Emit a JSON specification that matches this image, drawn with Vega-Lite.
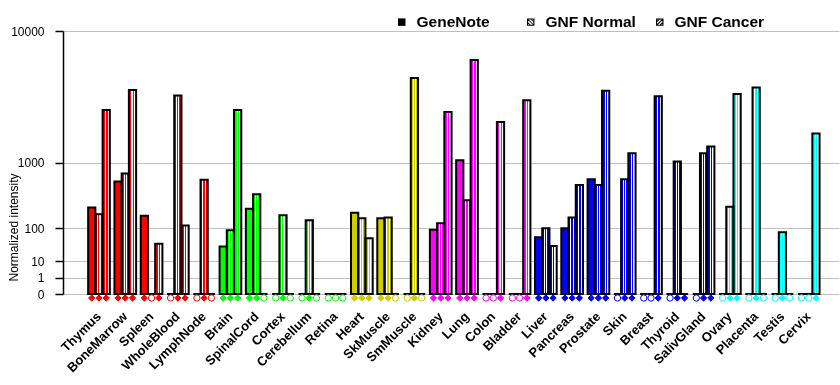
{
  "$schema": "https://vega.github.io/schema/vega-lite/v6.json",
  "width": 776,
  "height": 263,
  "autosize": {"type": "none"},
  "padding": {"left": 63, "top": 31, "right": 1, "bottom": 91},
  "background": "white",
  "config": {
    "view": {"stroke": null},
    "font": "Liberation Sans"
  },
  "resolve": {"scale": {"shape": "independent"}, "legend": {"shape": "independent"}},
  "data": {
    "values": [
      {"tissue": "Thymus", "system": "immune", "series": "GeneNote", "value": 248, "detected": 1},
      {"tissue": "Thymus", "system": "immune", "series": "GNF Normal", "value": 190, "detected": 1},
      {"tissue": "Thymus", "system": "immune", "series": "GNF Cancer", "value": 3046, "detected": 1},
      {"tissue": "BoneMarrow", "system": "immune", "series": "GeneNote", "value": 594, "detected": 1},
      {"tissue": "BoneMarrow", "system": "immune", "series": "GNF Normal", "value": 746, "detected": 1},
      {"tissue": "BoneMarrow", "system": "immune", "series": "GNF Cancer", "value": 4292, "detected": 1},
      {"tissue": "Spleen", "system": "immune", "series": "GeneNote", "value": 179, "detected": 1},
      {"tissue": "Spleen", "system": "immune", "series": "GNF Normal", "value": 0, "detected": 0},
      {"tissue": "Spleen", "system": "immune", "series": "GNF Cancer", "value": 41, "detected": 1},
      {"tissue": "WholeBlood", "system": "immune", "series": "GeneNote", "value": 0, "detected": 0},
      {"tissue": "WholeBlood", "system": "immune", "series": "GNF Normal", "value": 3925, "detected": 1},
      {"tissue": "WholeBlood", "system": "immune", "series": "GNF Cancer", "value": 114, "detected": 1},
      {"tissue": "LymphNode", "system": "immune", "series": "GeneNote", "value": 0, "detected": 0},
      {"tissue": "LymphNode", "system": "immune", "series": "GNF Normal", "value": 629, "detected": 1},
      {"tissue": "LymphNode", "system": "immune", "series": "GNF Cancer", "value": 0, "detected": 0},
      {"tissue": "Brain", "system": "neural", "series": "GeneNote", "value": 34, "detected": 1},
      {"tissue": "Brain", "system": "neural", "series": "GNF Normal", "value": 90, "detected": 1},
      {"tissue": "Brain", "system": "neural", "series": "GNF Cancer", "value": 3046, "detected": 1},
      {"tissue": "SpinalCord", "system": "neural", "series": "GeneNote", "value": 238, "detected": 1},
      {"tissue": "SpinalCord", "system": "neural", "series": "GNF Normal", "value": 400, "detected": 1},
      {"tissue": "SpinalCord", "system": "neural", "series": "GNF Cancer", "value": 0, "detected": 0},
      {"tissue": "Cortex", "system": "neural", "series": "GeneNote", "value": 0, "detected": 0},
      {"tissue": "Cortex", "system": "neural", "series": "GNF Normal", "value": 182, "detected": 1},
      {"tissue": "Cortex", "system": "neural", "series": "GNF Cancer", "value": 0, "detected": 0},
      {"tissue": "Cerebellum", "system": "neural", "series": "GeneNote", "value": 0, "detected": 0},
      {"tissue": "Cerebellum", "system": "neural", "series": "GNF Normal", "value": 147, "detected": 1},
      {"tissue": "Cerebellum", "system": "neural", "series": "GNF Cancer", "value": 0, "detected": 0},
      {"tissue": "Retina", "system": "neural", "series": "GeneNote", "value": 0, "detected": 0},
      {"tissue": "Retina", "system": "neural", "series": "GNF Normal", "value": 0, "detected": 0},
      {"tissue": "Retina", "system": "neural", "series": "GNF Cancer", "value": 0, "detected": 0},
      {"tissue": "Heart", "system": "muscle", "series": "GeneNote", "value": 203, "detected": 1},
      {"tissue": "Heart", "system": "muscle", "series": "GNF Normal", "value": 160, "detected": 1},
      {"tissue": "Heart", "system": "muscle", "series": "GNF Cancer", "value": 58, "detected": 1},
      {"tissue": "SkMuscle", "system": "muscle", "series": "GeneNote", "value": 160, "detected": 1},
      {"tissue": "SkMuscle", "system": "muscle", "series": "GNF Normal", "value": 165, "detected": 1},
      {"tissue": "SkMuscle", "system": "muscle", "series": "GNF Cancer", "value": 0, "detected": 0},
      {"tissue": "SmMuscle", "system": "muscle", "series": "GeneNote", "value": 0, "detected": 0},
      {"tissue": "SmMuscle", "system": "muscle", "series": "GNF Normal", "value": 5193, "detected": 1},
      {"tissue": "SmMuscle", "system": "muscle", "series": "GNF Cancer", "value": 0, "detected": 0},
      {"tissue": "Kidney", "system": "visceral", "series": "GeneNote", "value": 93, "detected": 1},
      {"tissue": "Kidney", "system": "visceral", "series": "GNF Normal", "value": 128, "detected": 1},
      {"tissue": "Kidney", "system": "visceral", "series": "GNF Cancer", "value": 2937, "detected": 1},
      {"tissue": "Lung", "system": "visceral", "series": "GeneNote", "value": 1060, "detected": 1},
      {"tissue": "Lung", "system": "visceral", "series": "GNF Normal", "value": 326, "detected": 1},
      {"tissue": "Lung", "system": "visceral", "series": "GNF Cancer", "value": 6776, "detected": 1},
      {"tissue": "Colon", "system": "visceral", "series": "GeneNote", "value": 0, "detected": 0},
      {"tissue": "Colon", "system": "visceral", "series": "GNF Normal", "value": 0, "detected": 0},
      {"tissue": "Colon", "system": "visceral", "series": "GNF Cancer", "value": 2434, "detected": 1},
      {"tissue": "Bladder", "system": "visceral", "series": "GeneNote", "value": 0, "detected": 0},
      {"tissue": "Bladder", "system": "visceral", "series": "GNF Normal", "value": 0, "detected": 0},
      {"tissue": "Bladder", "system": "visceral", "series": "GNF Cancer", "value": 3630, "detected": 1},
      {"tissue": "Liver", "system": "glandular", "series": "GeneNote", "value": 61, "detected": 1},
      {"tissue": "Liver", "system": "glandular", "series": "GNF Normal", "value": 100, "detected": 1},
      {"tissue": "Liver", "system": "glandular", "series": "GNF Cancer", "value": 35, "detected": 1},
      {"tissue": "Pancreas", "system": "glandular", "series": "GeneNote", "value": 100, "detected": 1},
      {"tissue": "Pancreas", "system": "glandular", "series": "GNF Normal", "value": 165, "detected": 1},
      {"tissue": "Pancreas", "system": "glandular", "series": "GNF Cancer", "value": 538, "detected": 1},
      {"tissue": "Prostate", "system": "glandular", "series": "GeneNote", "value": 637, "detected": 1},
      {"tissue": "Prostate", "system": "glandular", "series": "GNF Normal", "value": 538, "detected": 1},
      {"tissue": "Prostate", "system": "glandular", "series": "GNF Cancer", "value": 4245, "detected": 1},
      {"tissue": "Skin", "system": "glandular", "series": "GeneNote", "value": 0, "detected": 0},
      {"tissue": "Skin", "system": "glandular", "series": "GNF Normal", "value": 637, "detected": 1},
      {"tissue": "Skin", "system": "glandular", "series": "GNF Cancer", "value": 1256, "detected": 1},
      {"tissue": "Breast", "system": "glandular", "series": "GeneNote", "value": 0, "detected": 0},
      {"tissue": "Breast", "system": "glandular", "series": "GNF Normal", "value": 0, "detected": 0},
      {"tissue": "Breast", "system": "glandular", "series": "GNF Cancer", "value": 3886, "detected": 1},
      {"tissue": "Thyroid", "system": "glandular", "series": "GeneNote", "value": 0, "detected": 0},
      {"tissue": "Thyroid", "system": "glandular", "series": "GNF Normal", "value": 1023, "detected": 1},
      {"tissue": "Thyroid", "system": "glandular", "series": "GNF Cancer", "value": 0, "detected": 1},
      {"tissue": "SalivGland", "system": "glandular", "series": "GeneNote", "value": 0, "detected": 0},
      {"tissue": "SalivGland", "system": "glandular", "series": "GNF Normal", "value": 1256, "detected": 1},
      {"tissue": "SalivGland", "system": "glandular", "series": "GNF Cancer", "value": 1463, "detected": 1},
      {"tissue": "Ovary", "system": "reproductive", "series": "GeneNote", "value": 0, "detected": 0},
      {"tissue": "Ovary", "system": "reproductive", "series": "GNF Normal", "value": 257, "detected": 1},
      {"tissue": "Ovary", "system": "reproductive", "series": "GNF Cancer", "value": 4019, "detected": 1},
      {"tissue": "Placenta", "system": "reproductive", "series": "GeneNote", "value": 0, "detected": 0},
      {"tissue": "Placenta", "system": "reproductive", "series": "GNF Normal", "value": 4477, "detected": 1},
      {"tissue": "Placenta", "system": "reproductive", "series": "GNF Cancer", "value": 0, "detected": 0},
      {"tissue": "Testis", "system": "reproductive", "series": "GeneNote", "value": 0, "detected": 0},
      {"tissue": "Testis", "system": "reproductive", "series": "GNF Normal", "value": 81, "detected": 1},
      {"tissue": "Testis", "system": "reproductive", "series": "GNF Cancer", "value": 0, "detected": 0},
      {"tissue": "Cervix", "system": "reproductive", "series": "GeneNote", "value": 0, "detected": 0},
      {"tissue": "Cervix", "system": "reproductive", "series": "GNF Normal", "value": 0, "detected": 0},
      {"tissue": "Cervix", "system": "reproductive", "series": "GNF Cancer", "value": 1938, "detected": 1}
    ]
  },
  "encoding": {
    "x": {
      "field": "tissue",
      "type": "nominal",
      "sort": null,
      "scale": {"paddingInner": 0.175, "paddingOuter": 0.848, "align": 0.564},
      "axis": {
        "title": null,
        "domain": false,
        "ticks": false,
        "labelAngle": -45,
        "labelAlign": "right",
        "labelBaseline": "middle",
        "labelPadding": 20,
        "labelFont": "Liberation Sans",
        "labelFontSize": 13,
        "labelFontWeight": "bold",
        "labelColor": "black",
        "labelOverlap": false,
        "labelBound": false,
        "labelFlush": false
      }
    },
    "xOffset": {
      "field": "series",
      "type": "nominal",
      "scale": {"domain": ["GeneNote", "GNF Normal", "GNF Cancer"], "paddingInner": 0, "paddingOuter": 0}
    }
  },
  "layer": [
    {
      "mark": {"type": "bar", "strokeWidth": 0},
      "encoding": {
        "y": {
          "field": "value",
          "type": "quantitative",
          "scale": {"type": "pow", "exponent": 0.30103, "domain": [0, 10000], "nice": false},
          "axis": {
            "values": [0, 1, 10, 100, 1000, 10000],
            "format": "d",
            "title": "Normalized intensity",
            "titleFont": "Liberation Sans",
            "titleFontSize": 12,
            "titleFontWeight": "normal",
            "titleColor": "black",
            "titleAngle": -90,
            "titleAlign": "center",
            "titleBaseline": "alphabetic",
            "titleX": -46,
            "titleY": 196,
            "labelFont": "Liberation Sans",
            "labelFontSize": 12,
            "labelColor": "black",
            "labelPadding": 11,
            "tickSize": 8,
            "tickColor": "black",
            "tickWidth": 1.5,
            "domainColor": "black",
            "domainWidth": 1.5,
            "grid": true,
            "gridColor": "#c0c0c0",
            "gridWidth": 1,
            "labelFlush": false,
            "labelOverlap": false
          }
        },
        "fill": {
          "field": "system",
          "type": "nominal",
          "scale": {
            "domain": ["immune", "neural", "muscle", "visceral", "glandular", "reproductive"],
            "range": ["#ff0000", "#00ff00", "#cccc00", "#ff00ff", "#0000ff", "#00ffff"]
          },
          "legend": null
        }
      }
    },
    {
      "mark": {"type": "bar", "strokeWidth": 0, "blend": "screen"},
      "encoding": {
        "y": {"field": "value", "type": "quantitative"},
        "fill": {
          "condition": [
            {"test": "datum.series === 'GNF Normal'", "value": {"gradient": "linear", "x1": 0, "y1": 0, "x2": 1, "y2": 0, "stops": [
              {"offset": 0, "color": "#000000"}, {"offset": 0.26, "color": "#000000"},
              {"offset": 0.26, "color": "#ffffff"}, {"offset": 0.4, "color": "#ffffff"},
              {"offset": 0.4, "color": "#000000"}, {"offset": 0.57, "color": "#000000"},
              {"offset": 0.57, "color": "#ffffff"}, {"offset": 0.71, "color": "#ffffff"},
              {"offset": 0.71, "color": "#000000"}, {"offset": 1, "color": "#000000"}
            ]}},
            {"test": "datum.series === 'GNF Cancer'", "value": {"gradient": "linear", "x1": 0, "y1": 0, "x2": 1, "y2": 0, "stops": [
              {"offset": 0, "color": "#000000"}, {"offset": 0.35, "color": "#000000"},
              {"offset": 0.35, "color": "#ffffff"}, {"offset": 0.5, "color": "#ffffff"},
              {"offset": 0.5, "color": "#000000"}, {"offset": 0.68, "color": "#000000"},
              {"offset": 0.68, "color": "#ffffff"}, {"offset": 1, "color": "#ffffff"}
            ]}}
          ],
          "value": "#000000"
        }
      }
    },
    {
      "mark": {"type": "bar", "fill": "transparent", "stroke": "black", "strokeWidth": 2},
      "encoding": {
        "y": {"field": "value", "type": "quantitative"}
      }
    },
    {
      "mark": {"type": "point", "size": 40, "strokeWidth": 1, "opacity": 1, "yOffset": 4},
      "encoding": {
        "y": {"datum": 0},
        "shape": {
          "field": "detected",
          "type": "nominal",
          "scale": {"domain": [1, 0], "range": ["diamond", "circle"]},
          "legend": null
        },
        "fill": {
          "condition": {"test": "datum.detected === 1", "field": "system", "type": "nominal", "legend": null},
          "value": "white"
        },
        "stroke": {
          "field": "system",
          "type": "nominal",
          "scale": {
            "domain": ["immune", "neural", "muscle", "visceral", "glandular", "reproductive"],
            "range": ["#ff0000", "#00ff00", "#cccc00", "#ff00ff", "#0000ff", "#00ffff"]
          },
          "legend": null
        }
      }
    },
    {
      "mark": {"type": "point", "filled": true, "color": "black", "strokeWidth": 0, "opacity": 0, "size": 56},
      "encoding": {
        "y": {"datum": 0},
        "shape": {
          "field": "series",
          "type": "nominal",
          "scale": {
            "domain": ["GeneNote", "GNF Normal", "GNF Cancer"],
            "range": [
              "M-1,-1L1,-1L1,1L-1,1Z",
              "M-1,-1L1,-1L1,1L-1,1Z M-0.7,-0.7L-0.7,0.7L0.7,0.7L0.7,-0.7Z M-1,-1L-0.85,-1L1,0.85L1,1L0.85,1L-1,-0.85Z M-1,-0.25L0.25,1L-0.05,1L-1,0.05Z M0.05,-1L1,-0.05L1,0.25L-0.25,-1Z",
              "M-1,-1L1,-1L1,1L-1,1Z M-0.7,-0.7L-0.7,0.7L0.7,0.7L0.7,-0.7Z M1,-1L1,-0.78L-0.78,1L-1,1L-1,0.78L0.78,-1Z M1,-0.3L1,0.1L0.1,1L-0.3,1Z M-1,0.3L-1,-0.1L-0.1,-1L0.3,-1Z"
            ]
          },
          "legend": {
            "orient": "none",
            "legendX": 331,
            "legendY": -17,
            "direction": "horizontal",
            "title": null,
            "padding": 0,
            "offset": 0,
            "gridAlign": "all",
            "columnPadding": 16,
            "symbolSize": 56,
            "symbolFillColor": "black",
            "symbolStrokeWidth": 0,
            "symbolOpacity": 1,
            "labelOffset": 7,
            "labelFont": "Liberation Sans",
            "labelFontSize": 15.5,
            "labelFontWeight": "bold",
            "labelColor": "black"
          }
        }
      }
    }
  ]
}
